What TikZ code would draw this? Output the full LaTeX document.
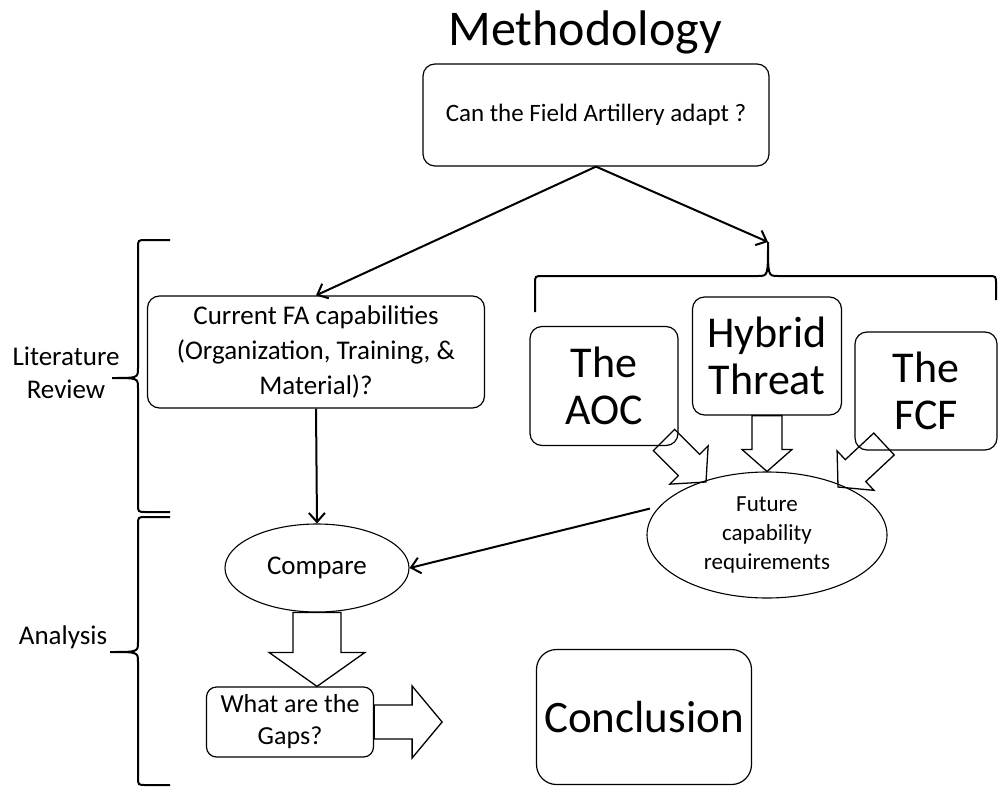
\documentclass[tikz,border=0pt]{standalone}
\usepackage{fontspec}
\setmainfont{Carlito}
\usetikzlibrary{arrows.meta, positioning, shapes.geometric, calc}

% hollow block arrow: tail, tip, half shaft, half head, head length
\newcommand{\blockarrow}[5]{%
  \coordinate (ba-h) at ($(#2)!#5!(#1)$);
  \draw[fat] ($(#1)!#3!90:(#2)$) -- ($(ba-h)!#3!90:(#2)$) -- ($(ba-h)!#4!90:(#2)$)
    -- (#2) -- ($(ba-h)!#4!-90:(#2)$) -- ($(ba-h)!#3!-90:(#2)$) -- ($(#1)!#3!-90:(#2)$) -- cycle;
}

\begin{document}
\begin{tikzpicture}
            [
            x=1pt, y=-1pt,
            box/.style={
                rectangle,
                draw,
                rounded corners=12pt,
                line width=1.2pt,
                inner sep=0pt,
                align=center
            },
            bigbox/.style={
                box,
                font=\fontsize{44}{47}\selectfont
            },
            oval/.style={
                ellipse,
                draw,
                line width=1.1pt,
                inner sep=0pt,
                align=center
            },
            side/.style={
                align=center,
                font=\fontsize{27}{33}\selectfont
            },
            arrow/.style={
                -{Straight Barb[length=9pt, width=16pt]},
                line width=2pt
            },
            fat/.style={
                draw,
                line width=1.3pt,
                line join=miter
            },
            brace/.style={
                line width=2pt
            }
            ]
            \useasboundingbox (0,0) rectangle (998,792);

            % title and question
            \node (title) [anchor=base, font=\fontsize{50}{56}\selectfont] at (585,46) {Methodology};
            \node (q) [box, minimum width=346pt, minimum height=102pt, font=\fontsize{25}{30}\selectfont] at (596,115) {Can the Field Artillery adapt ?};

            % left branch
            \node (cur) [box, minimum width=337pt, minimum height=112pt, font=\fontsize{27}{35}\selectfont] at (316,352) {Current FA capabilities\\(Organization, Training, \&\\Material)?};
            \node (cmp) [oval, minimum width=184pt, minimum height=88pt, font=\fontsize{27}{33}\selectfont] at (317,568) {Compare};
            \node (gap) [box, rounded corners=10pt, minimum width=167pt, minimum height=70pt, font=\fontsize{26}{32}\selectfont] at (290,722) {What are the\\Gaps?};
            \node (concl) [box, rounded corners=20pt, minimum width=215pt, minimum height=135pt, font=\fontsize{45}{50}\selectfont] at (644,717) {Conclusion};

            % right branch
            \node (aoc) [bigbox, minimum width=148pt, minimum height=119pt] at (604,386) {The\\AOC};
            \node (hyb) [bigbox, minimum width=149pt, minimum height=118pt] at (767,356) {Hybrid\\Threat};
            \node (fcf) [bigbox, minimum width=142pt, minimum height=118pt] at (926,391) {The\\FCF};
            \node (fut) [oval, minimum width=240pt, minimum height=126pt, font=\fontsize{23}{29}\selectfont] at (767,535) {Future\\capability\\requirements};

            % side labels
            \node (lit) [side] at (66,373) {Literature\\Review};
            \node (ana) [side] at (63,637) {Analysis};

            % braces
            \draw[brace] (170,240) -- (146,240) .. controls (138,240) .. (138,248) -- (138,368)
                .. controls (138,378) .. (112,378) .. controls (138,378) .. (138,388)
                -- (138,504) .. controls (138,512) .. (146,512) -- (170,512);
            \draw[brace] (170,517) -- (146,517) .. controls (138,517) .. (138,525) -- (138,642)
                .. controls (138,652) .. (110,652) .. controls (138,652) .. (138,662)
                -- (138,777) .. controls (138,785) .. (146,785) -- (170,785);
            \coordinate (bt) at (768,242);
            \draw[brace] (535,312) -- (535,284) .. controls (535,276) .. (543,276) -- (758,276)
                .. controls (768,276) .. (bt) .. controls (768,276) .. (778,276)
                -- (988,276) .. controls (996,276) .. (996,284) -- (996,300);

            % arrows
            \draw[arrow] (q.south) -- (cur.north);
            \draw[arrow] (q.south) -- (bt);
            \draw[arrow] (cur.south) -- (cmp.north);
            \draw[arrow, shorten <=10pt] (fut.165) -- (cmp.east);

            % block arrows
            \coordinate (aoc-t) at (664,440);
            \coordinate (aoc-h) at (706,482);
            \coordinate (fcf-t) at (884,444);
            \coordinate (fcf-h) at (838,487);
            \coordinate (gap-h) at (cmp.south |- gap.north);
            \coordinate (gap-e) at ($(gap.east)+(68,0)$);
            \blockarrow{aoc-t}{aoc-h}{15pt}{27pt}{24pt}
            \blockarrow{hyb.south}{fut.north}{15pt}{25pt}{22pt}
            \blockarrow{fcf-t}{fcf-h}{15pt}{27pt}{24pt}
            \blockarrow{cmp.south}{gap-h}{24pt}{48pt}{34pt}
            \blockarrow{gap.east}{gap-e}{17pt}{36pt}{30pt}

        \end{tikzpicture}
\end{document}
